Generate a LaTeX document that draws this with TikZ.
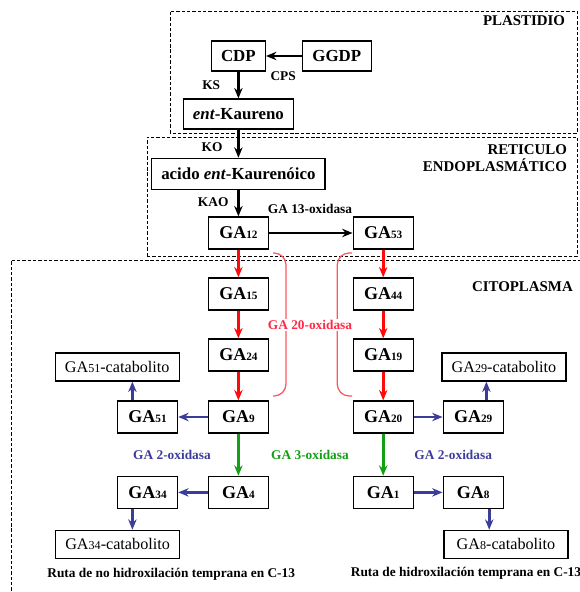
\documentclass[tikz,border=0pt]{standalone}
\usepackage{fontspec}
\setmainfont{Liberation Serif}
\usetikzlibrary{arrows.meta}
\usetikzlibrary{calc}
\usetikzlibrary{positioning}

\definecolor{gared}{RGB}{255,10,10}
\definecolor{galabred}{RGB}{255,40,70}
\definecolor{gabrace}{RGB}{255,85,95}
\definecolor{gagreen}{RGB}{20,160,20}
\definecolor{gablue}{RGB}{60,60,155}

\newcommand{\GAs}[1]{GA{\fontsize{8}{8}\selectfont #1}}
\newcommand{\GAcat}[1]{GA{\fontsize{8.6}{9}\selectfont #1}-catabolito}

\begin{document}
\begin{tikzpicture}[
		box/.style={draw, line width=0.9pt, inner sep=2pt},
		gabox/.style={box, minimum width=15mm, minimum height=8mm, font=\bfseries\fontsize{12.8}{14}\selectfont},
		topbox/.style={box, minimum height=7.5mm, font=\bfseries\fontsize{12}{14}\selectfont},
		catbox/.style={box, minimum width=31mm, minimum height=7mm, font=\fontsize{11.5}{13}\selectfont},
		lbl/.style={font=\bfseries\fontsize{9.5}{11}\selectfont},
		zonelbl/.style={font=\bfseries\fontsize{10.6}{12}\selectfont},
		zone/.style={line width=0.6pt, dash pattern=on 2.4pt off 1.4pt},
		blk/.style={-{Stealth[length=2.6mm,width=2.1mm]}, line width=1.6pt},
		redarr/.style={blk, gared, line width=2pt},
		greenarr/.style={blk, gagreen, line width=2pt},
		bluearr/.style={blk, gablue, line width=2pt}]
		\useasboundingbox (0,0) rectangle (14.5,14.8);
		% compartimentos
		\draw[zone] (4.25,11.475) rectangle (14.43,14.525);
		\draw[zone] (3.675,8.4) rectangle (14.43,11.375);
		\draw[zone] (0.275,-0.5) -- (0.275,8.3) -- (14.7,8.3);
		\path	(14.25,14.28)	node[zonelbl, anchor=east] {PLASTIDIO}
			(14.3,10.84)	node[zonelbl, anchor=east, align=right] {RETICULO\\ENDOPLASMÁTICO}
			(13.06,7.63)	node[zonelbl] {CITOPLASMA};
		% primeros pasos
		\path	(5.96,13.4)	node[topbox, minimum width=13.5mm] (cdp) {CDP}
			(8.42,13.4)	node[topbox, minimum width=17.2mm] (ggdp) {GGDP}
			(5.96,11.95)	node[topbox, minimum width=27.5mm] (kaur) {\textit{ent}-Kaureno}
			(5.96,10.45)	node[topbox, minimum width=43.3mm, minimum height=7.8mm] (acido) {acido \textit{ent}-Kaurenóico}
			(5.96,8.975)	node[gabox] (ga12) {\GAs{12}}
			(9.58,8.975)	node[gabox] (ga53) {\GAs{53}};
		\path	(5.28,12.68)	node[lbl] {KS}
			(7.08,12.9)	node[lbl] {CPS}
			(5.3,11.12)	node[lbl] {KO}
			(5.33,9.75)	node[lbl] {KAO}
			(7.75,9.57)	node[lbl] {GA 13-oxidasa};
		\draw[blk] (ggdp) -- (cdp);
		\draw[blk] (cdp) -- (kaur);
		\draw[blk] (kaur) -- (acido);
		\draw[blk] (acido) -- (ga12);
		\draw[blk] (ga12) -- (ga53);
		% ruta sin hidroxilacion en C-13
		\path	(5.96,7.45)	node[gabox] (ga15) {\GAs{15}}
			(5.96,5.925)	node[gabox] (ga24) {\GAs{24}}
			(5.96,4.375)	node[gabox] (ga9) {\GAs{9}}
			(5.96,2.49)	node[gabox] (ga4) {\GAs{4}}
			(3.69,4.375)	node[gabox] (ga51) {\GAs{51}}
			(3.69,2.49)	node[gabox] (ga34) {\GAs{34}}
			(2.93,5.625)	node[catbox] (cat51) {\GAcat{51}}
			(2.94,1.19)	node[catbox] (cat34) {\GAcat{34}}
			(4.28,0.45)	node[lbl] {Ruta de no hidroxilación temprana en C-13};
		% ruta con hidroxilacion en C-13
		\path	(9.58,7.45)	node[gabox] (ga44) {\GAs{44}}
			(9.58,5.925)	node[gabox] (ga19) {\GAs{19}}
			(9.58,4.375)	node[gabox] (ga20) {\GAs{20}}
			(9.58,2.49)	node[gabox] (ga1) {\GAs{1}}
			(11.83,4.375)	node[gabox] (ga29) {\GAs{29}}
			(11.83,2.49)	node[gabox] (ga8) {\GAs{8}}
			(12.6,5.625)	node[catbox] (cat29) {\GAcat{29}}
			(12.65,1.19)	node[catbox] (cat8) {\GAcat{8}}
			(11.65,0.47)	node[lbl] {Ruta de hidroxilación temprana en C-13};
		\draw[redarr] (ga12) -- (ga15);
		\draw[redarr] (ga15) -- (ga24);
		\draw[redarr] (ga24) -- (ga9);
		\draw[redarr] (ga53) -- (ga44);
		\draw[redarr] (ga44) -- (ga19);
		\draw[redarr] (ga19) -- (ga20);
		\draw[greenarr] (ga9) -- (ga4);
		\draw[greenarr] (ga20) -- (ga1);
		\draw[bluearr] (ga9) -- (ga51);
		\draw[bluearr] (ga4) -- (ga34);
		\draw[bluearr] (ga20) -- (ga29);
		\draw[bluearr] (ga1) -- (ga8);
		\draw[bluearr] ($(ga51.north)+(-0.38,0)$) coordinate (u51) -- (u51 |- cat51.south);
		\draw[bluearr] ($(ga34.south)+(-0.38,0)$) coordinate (u34) -- (u34 |- cat34.north);
		\draw[bluearr] ($(ga29.north)+(0.33,0)$) coordinate (u29) -- (u29 |- cat29.south);
		\draw[bluearr] ($(ga8.south)+(0.4,0)$) coordinate (u8) -- (u8 |- cat8.north);
		% GA 20-oxidasa
		\draw[gabrace, line width=0.9pt, rounded corners=3mm] (6.83,8.475) -- (7.15,8.475) -- (7.15,4.9) -- (6.83,4.9);
		\draw[gabrace, line width=0.9pt, rounded corners=3mm] (8.8,8.475) -- (8.43,8.475) -- (8.43,4.9) -- (8.8,4.9);
		\path	(7.75,6.67)	node[lbl, galabred, fill=white, inner sep=1pt] {GA 20-oxidasa}
			(4.3,3.43)	node[lbl, gablue] {GA 2-oxidasa}
			(7.75,3.43)	node[lbl, gagreen] {GA 3-oxidasa}
			(11.33,3.43)	node[lbl, gablue] {GA 2-oxidasa};
	\end{tikzpicture}
\end{document}
